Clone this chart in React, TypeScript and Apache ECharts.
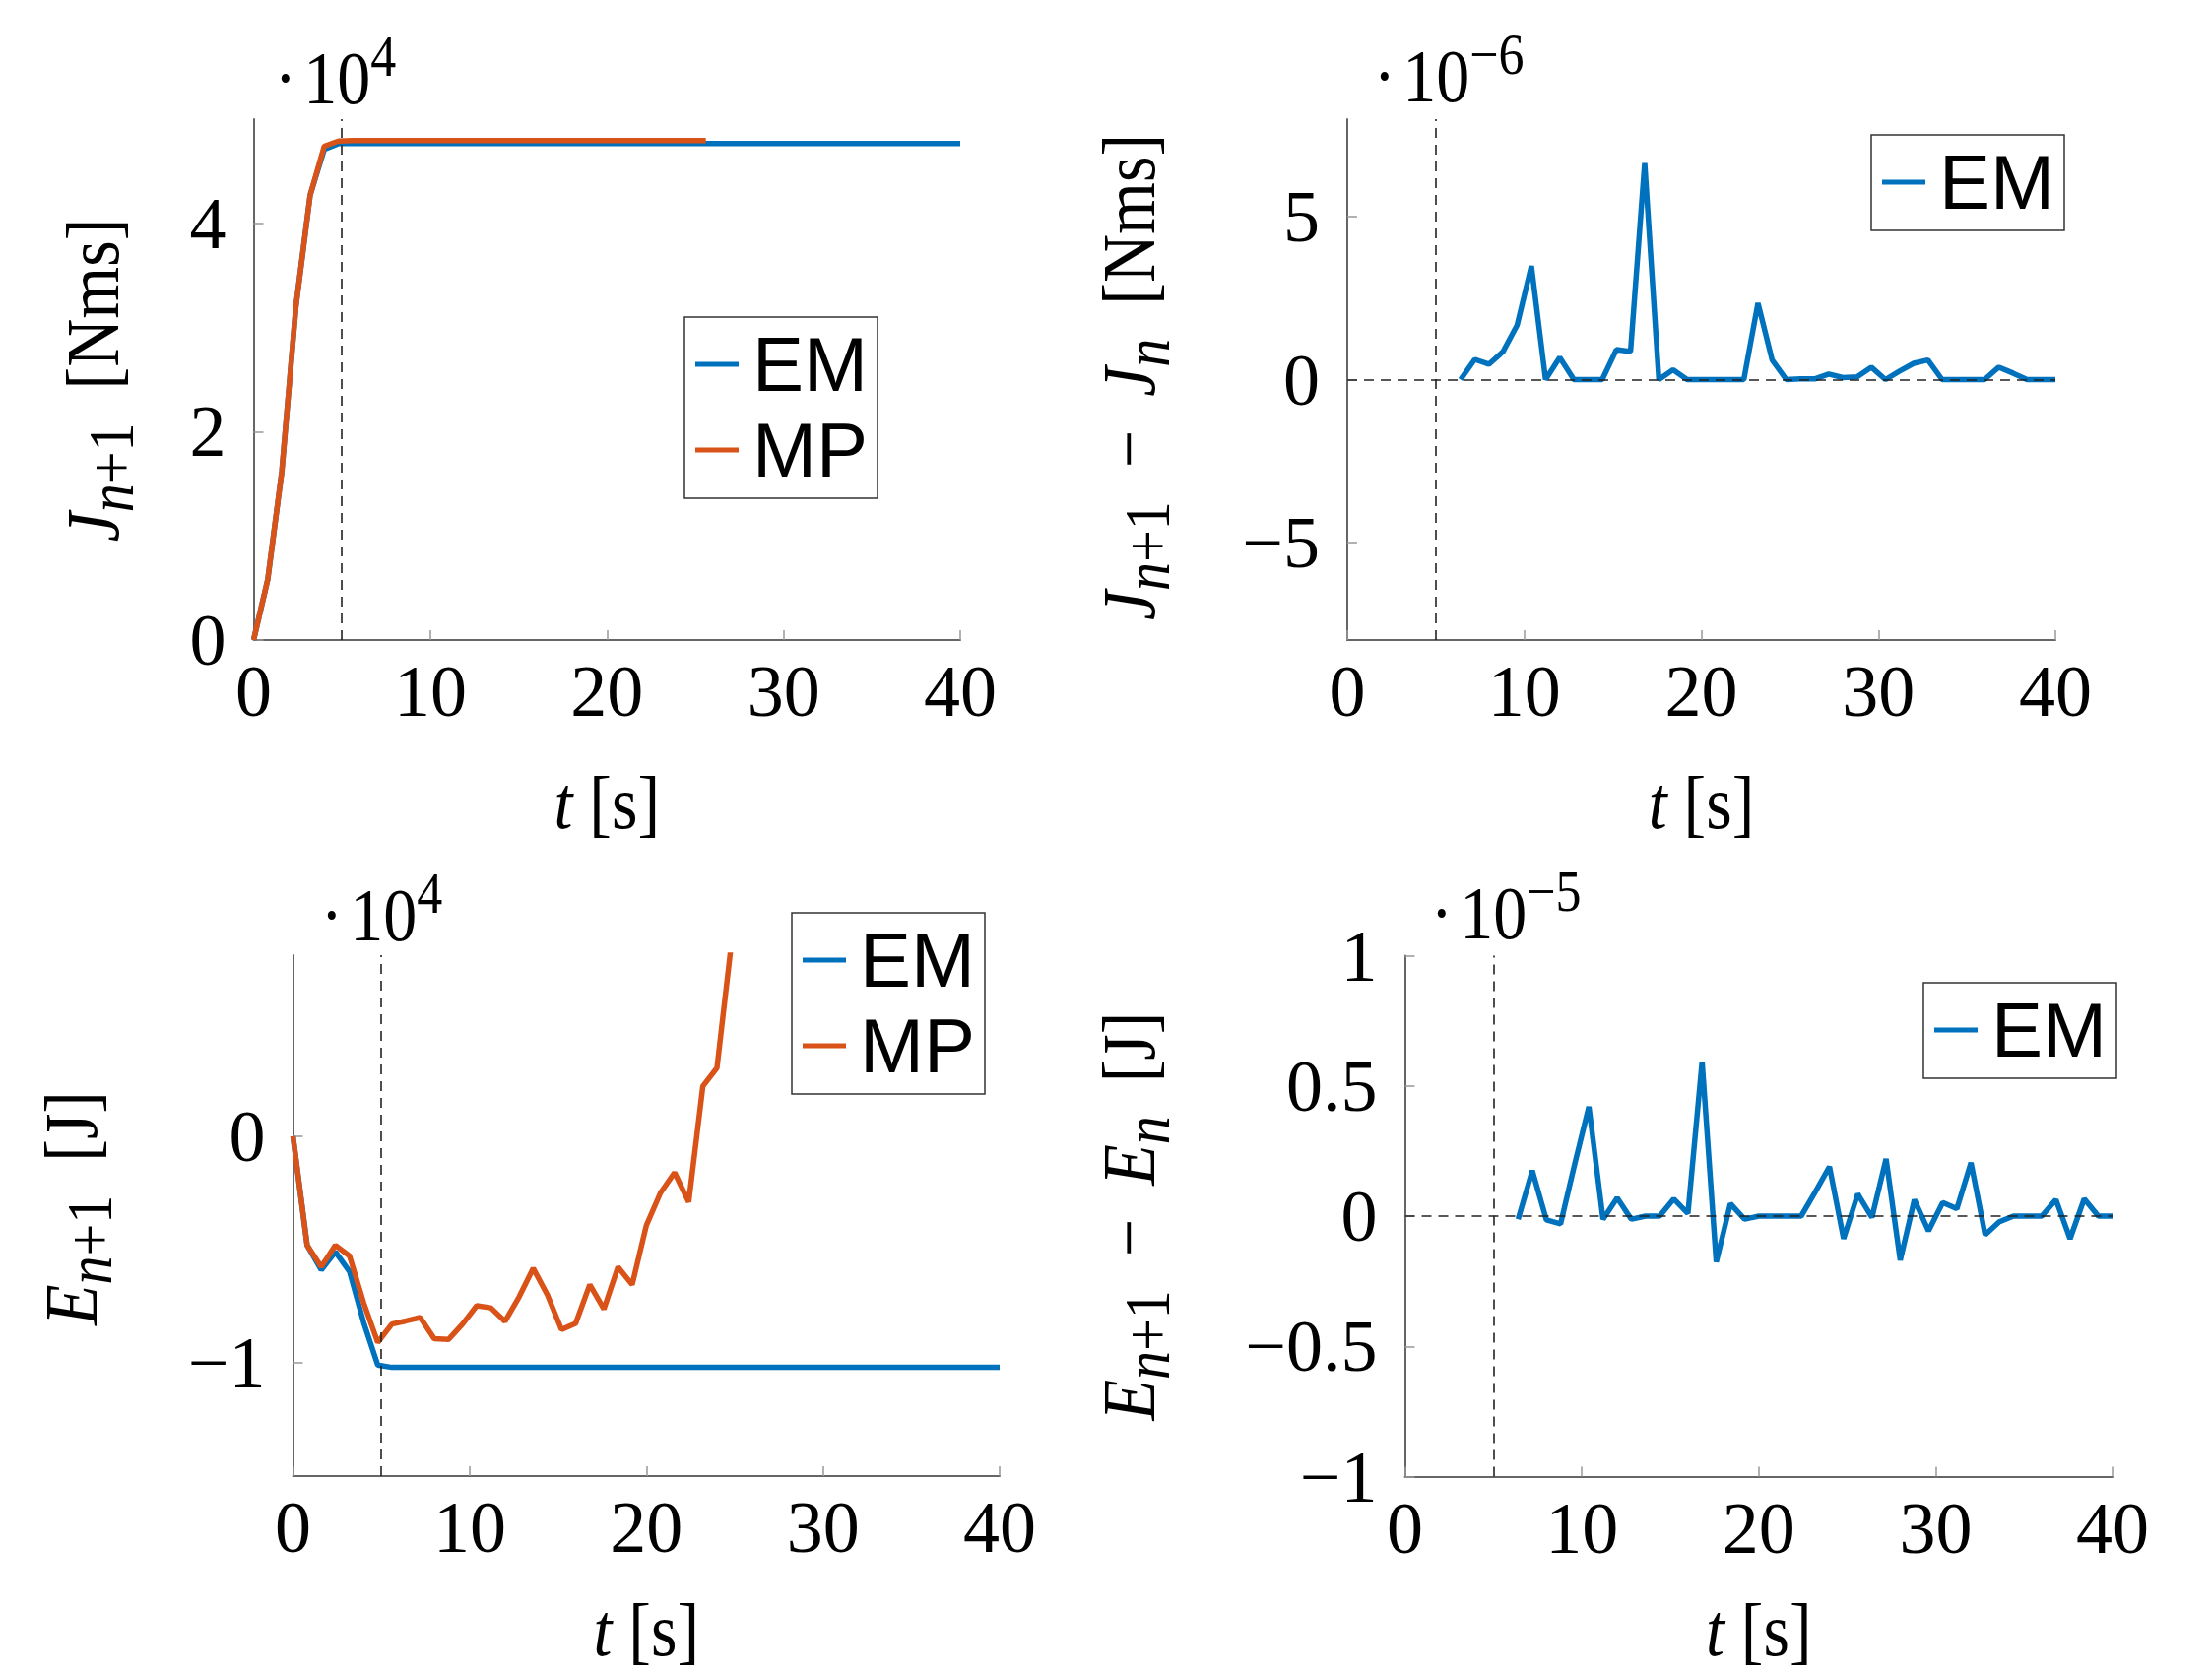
import React, { useEffect, useRef } from 'react';
import * as echarts from 'echarts';

// time grid [s]
const T = [0, 0.8, 1.6, 2.4, 3.2, 4, 4.8, 5.6, 6.4, 7.2, 8, 8.8, 9.6, 10.4, 11.2, 12, 12.8, 13.6, 14.4, 15.2, 16, 16.8, 17.6, 18.4, 19.2, 20, 20.8, 21.6, 22.4, 23.2, 24, 24.8, 25.6, 26.4, 27.2, 28, 28.8, 29.6, 30.4, 31.2, 32, 32.8, 33.6, 34.4, 35.2, 36, 36.8, 37.6, 38.4, 39.2, 40];
const DIFF_START = 8; // difference series start at t = 6.4 s
const SWITCH_T = 5;

// J_{n+1} [Nms], x 10^4
const J_EM = [0, 0.58, 1.62, 3.21, 4.27, 4.71, 4.765, 4.765, 4.765, 4.765, 4.765, 4.765, 4.765, 4.765, 4.765, 4.765, 4.765, 4.765, 4.765, 4.765, 4.765, 4.765, 4.765, 4.765, 4.765, 4.765, 4.765, 4.765, 4.765, 4.765, 4.765, 4.765, 4.765, 4.765, 4.765, 4.765, 4.765, 4.765, 4.765, 4.765, 4.765, 4.765, 4.765, 4.765, 4.765, 4.765, 4.765, 4.765, 4.765, 4.765, 4.765];
const J_MP = [0, 0.58, 1.62, 3.21, 4.27, 4.74, 4.79, 4.795, 4.795, 4.795, 4.795, 4.795, 4.795, 4.795, 4.795, 4.795, 4.795, 4.795, 4.795, 4.795, 4.795, 4.795, 4.795, 4.795, 4.795, 4.795, 4.795, 4.795, 4.795, 4.795, 4.795, 4.795, 4.795];

// J_{n+1} - J_n [Nms], x 10^-6
const DJ_EM = [0, 0.62, 0.47, 0.86, 1.68, 3.49, 0, 0.68, 0, 0, 0, 0.92, 0.86, 6.65, 0, 0.3, 0, 0, 0, 0, 0, 2.35, 0.6, 0, 0.02, 0.02, 0.17, 0.06, 0.08, 0.38, 0, 0.26, 0.5, 0.6, 0, 0, 0, 0, 0.38, 0.2, 0, 0, 0];

// E_{n+1} [J], x 10^4
const E_EM = [0, -0.481, -0.59, -0.51, -0.597, -0.822, -1.01, -1.02, -1.02, -1.02, -1.02, -1.02, -1.02, -1.02, -1.02, -1.02, -1.02, -1.02, -1.02, -1.02, -1.02, -1.02, -1.02, -1.02, -1.02, -1.02, -1.02, -1.02, -1.02, -1.02, -1.02, -1.02, -1.02, -1.02, -1.02, -1.02, -1.02, -1.02, -1.02, -1.02, -1.02, -1.02, -1.02, -1.02, -1.02, -1.02, -1.02, -1.02, -1.02, -1.02, -1.02];
const E_MP = [0, -0.481, -0.576, -0.481, -0.528, -0.735, -0.91, -0.829, -0.815, -0.8, -0.894, -0.897, -0.829, -0.748, -0.757, -0.817, -0.709, -0.583, -0.7, -0.853, -0.826, -0.655, -0.763, -0.577, -0.655, -0.394, -0.25, -0.16, -0.29, 0.221, 0.302, 0.84, 1.4];

// E_{n+1} - E_n [J], x 10^-5
const DE_EM = [-0.012, 0.175, -0.015, -0.03, 0.2, 0.42, -0.012, 0.07, -0.012, 0, 0, 0.066, 0.01, 0.593, -0.176, 0.048, -0.012, 0, 0, 0, 0, 0.093, 0.19, -0.087, 0.085, -0.005, 0.22, -0.17, 0.063, -0.057, 0.052, 0.028, 0.205, -0.072, -0.022, 0, 0, 0, 0.063, -0.087, 0.066, 0, 0];

const X_TICKS = [0, 10, 20, 30, 40];
const Y_TICKS = [[0, 2, 4], [-5, 0, 5], [-1, 0], [-1, -0.5, 0, 0.5, 1]];
const Y_RANGE = [[0, 5], [-8, 8], [-1.5, 0.8], [-1, 1]];
const EXPONENTS = ['4', '−6', '4', '−5'];

const BLUE = '#0072BD';
const ORANGE = '#D95319';
const SERIF = '"Liberation Serif", "DejaVu Serif", serif';
const SANS = '"Liberation Sans", Arial, sans-serif';

const GRIDS = [
  { left: 257.5, top: 121, width: 717.5, height: 529 },
  { left: 1368, top: 121, width: 719, height: 529 },
  { left: 297.5, top: 970, width: 717.5, height: 529 },
  { left: 1426.5, top: 970.5, width: 718.5, height: 529 },
];

const LEGEND_POS = [
  { left: 695, top: 322, data: ['EM', 'MP'] },
  { left: 1900, top: 137, data: ['EM'] },
  { left: 804, top: 927, data: ['EM', 'MP'] },
  { left: 1953, top: 998, data: ['EM'] },
];

const TF = 68;
const SUBF = 58;
const SY = 1.13;
const SP = '\u00a0';

const rich = {
  i: { fontFamily: SERIF, fontStyle: 'italic', fontSize: TF, fill: '#000' },
  r: { fontFamily: SERIF, fontSize: TF, fill: '#000' },
  si: { fontFamily: SERIF, fontStyle: 'italic', fontSize: SUBF, fill: '#000', padding: [33, 0, 0, 0] },
  sr: { fontFamily: SERIF, fontSize: SUBF, fill: '#000', padding: [33, 0, 0, 0] },
  dot: { fontFamily: SERIF, fontSize: TF, fill: '#000', padding: [0, 7, 0, 0] },
  sup: { fontFamily: SERIF, fontSize: 52, fill: '#000', padding: [0, 0, 38, 0] },
};

const MINUS = SP + SP + '−' + SP + SP;
const Y_TITLES = [
  { text: '{i|J}{si|n}{sr|+1}{r|' + SP + SP + '[Nms]}', x: 94, y: 386 },
  { text: '{i|J}{si|n}{sr|+1}{r|' + MINUS + '}{i|J}{si|n}{r|' + SP + SP + '[Nms]}', x: 1146, y: 383 },
  { text: '{i|E}{si|n}{sr|+1}{r|' + SP + SP + '[J]}', x: 72.5, y: 1227 },
  { text: '{i|E}{si|n}{sr|+1}{r|' + MINUS + '}{i|E}{si|n}{r|' + SP + SP + '[J]}', x: 1146, y: 1235 },
];
const X_TITLE_Y = [815, 815, 1655, 1655];
const EXP_POS = [
  { x: 278.5, y: 79 },
  { x: 1394.5, y: 77 },
  { x: 325.5, y: 929 },
  { x: 1452.5, y: 927 },
];

const zip = (ts: number[], vs: number[]) => vs.map((v, i) => [ts[i], v]);
const fmt = (v: number) => String(v).replace('-', '−');

function buildOption() {
  const grid = GRIDS.map((g) => ({ ...g, containLabel: false, outerBoundsMode: 'none' }));
  const axisLine = { show: true, onZero: false, lineStyle: { color: '#666', width: 2 } };
  const axisTickBase = { show: true, inside: true, length: 10, lineStyle: { color: '#999', width: 1.5 } };
  const xAxis = GRIDS.map((_, i) => ({
    type: 'value', gridIndex: i, min: 0, max: 40, interval: 10,
    axisLine,
    axisTick: { ...axisTickBase, customValues: X_TICKS },
    axisLabel: { fontFamily: SERIF, fontSize: 74, color: '#000', margin: 15, customValues: X_TICKS, formatter: fmt },
    splitLine: { show: false },
  }));
  const yAxis = GRIDS.map((_, i) => ({
    type: 'value', gridIndex: i, min: Y_RANGE[i][0], max: Y_RANGE[i][1],
    axisLine,
    axisTick: { ...axisTickBase, customValues: Y_TICKS[i] },
    axisLabel: { fontFamily: SERIF, fontSize: 74, color: '#000', margin: 28, customValues: Y_TICKS[i], formatter: fmt },
    splitLine: { show: false },
  }));

  const refLine = { color: '#222', width: 1.6, type: [10, 7] };
  const helpers = GRIDS.map((_, i) => ({
    name: '_ref' + i, type: 'line', xAxisIndex: i, yAxisIndex: i, data: [], z: 1, silent: true,
    markLine: {
      silent: true, symbol: ['none', 'none'], label: { show: false }, lineStyle: refLine,
      data: i === 1 || i === 3 ? [{ xAxis: SWITCH_T }, { yAxis: 0 }] : [{ xAxis: SWITCH_T }],
    },
  }));
  const mk = (name: string, i: number, data: number[][], color: string) => ({
    name, type: 'line', xAxisIndex: i, yAxisIndex: i, data, z: 3,
    showSymbol: false, symbol: 'none', clip: true,
    lineStyle: { color, width: 5.5 }, itemStyle: { color },
    emphasis: { disabled: true },
  });
  const series = [
    ...helpers,
    mk('EM', 0, zip(T, J_EM), BLUE),
    mk('MP', 0, zip(T, J_MP), ORANGE),
    mk('EM', 1, zip(T.slice(DIFF_START), DJ_EM), BLUE),
    mk('EM', 2, zip(T, E_EM), BLUE),
    mk('MP', 2, zip(T, E_MP), ORANGE),
    mk('EM', 3, zip(T.slice(DIFF_START), DE_EM), BLUE),
  ];

  const legend = LEGEND_POS.map((l) => ({
    left: l.left, top: l.top, data: l.data, orient: 'vertical',
    icon: 'rect', itemWidth: 44, itemHeight: 5, itemGap: 9,
    padding: [9, 10, 10, 11],
    borderColor: '#333', borderWidth: 1.5, borderRadius: 0, backgroundColor: '#fff',
    selectedMode: false,
    textStyle: { fontFamily: SANS, fontSize: 78, color: '#000', lineHeight: 70, padding: [0, 0, 0, 9] },
  }));

  const graphic: any[] = [];
  Y_TITLES.forEach((t) => {
    graphic.push({
      type: 'text', x: t.x, y: t.y, rotation: Math.PI / 2, scaleY: SY, silent: true,
      style: { text: t.text, rich, fontFamily: SERIF, fontSize: TF, fill: '#000', align: 'center', verticalAlign: 'middle' },
    });
  });
  GRIDS.forEach((g, i) => {
    graphic.push({
      type: 'text', x: g.left + g.width / 2, y: X_TITLE_Y[i], scaleY: SY, silent: true,
      style: { text: '{i|t}{r|' + SP + '[s]}', rich, fontFamily: SERIF, fontSize: TF, fill: '#000', align: 'center', verticalAlign: 'middle' },
    });
    graphic.push({
      type: 'text', x: EXP_POS[i].x, y: EXP_POS[i].y, scaleY: 1.13, silent: true,
      style: { text: '{dot|·}{r|10}{sup|' + EXPONENTS[i] + '}', rich, fontFamily: SERIF, fontSize: TF, fill: '#000', align: 'left', verticalAlign: 'middle' },
    });
  });

  return {
    animation: false,
    backgroundColor: '#fff',
    grid, xAxis, yAxis, series, legend, graphic,
  };
}

export default function App() {
  const ref = useRef<HTMLDivElement>(null);
  useEffect(() => {
    const chart = echarts.init(ref.current!, undefined, { renderer: 'svg' });
    chart.setOption(buildOption() as any);
    return () => chart.dispose();
  }, []);
  return (
    <div
      ref={ref}
      style={{ position: 'absolute', left: 0, top: 0, width: 2246, height: 1700, background: '#fff' }}
    />
  );
}
